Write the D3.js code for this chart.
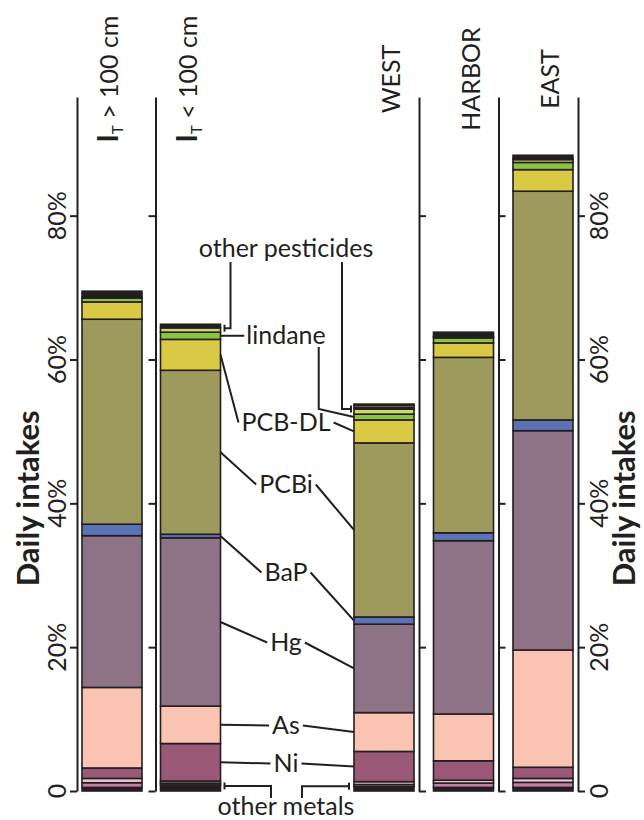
<!DOCTYPE html>
<html lang="en">
<head>
<meta charset="UTF-8">
<title>Daily intakes</title>
<style>
  body { margin: 0; background: #fff; }
  text { font-family: Lato, "Open Sans", sans-serif; fill: #231f20; }
</style>
</head>
<body>
<div id="chart-area"></div>
<script src="https://cdnjs.cloudflare.com/ajax/libs/d3/7.8.5/d3.min.js"></script>
<script>
// ---- data (% of daily intake, segment sizes bottom -> top) ----
const leftSites = ['gt100', 'lt100'];
const rightSites = ['WEST', 'HARBOR', 'EAST'];
const layers = ['metalA', 'metalB', 'metalC', 'Ni', 'As', 'Hg', 'BaP', 'PCBi', 'PCB-DL',
                'lindane', 'pestA', 'pestB', 'pestC', 'pestD'];
const layerColors = ['#231f20', '#c47ca9', '#ecc6d3', '#9a5877', '#fbc4b2', '#8e7285', '#5b73b4',
                     '#9e995c', '#d9c945', '#8bc540', '#cdd672', '#231f20', '#cdd672', '#231f20'];
const gt100  = [0.5, 0.65, 0.6, 1.45, 11.2, 21.1, 1.6, 28.5, 2.4, 0.55, 0.1, 0, 0, 0.85];
const lt100  = [0.85, 0.25, 0.3, 5.2, 5.2, 23.4, 0.5, 22.8, 4.3, 1.0, 0.6, 0.5, 0, 0];
const west   = [0.6, 0.3, 0.4, 4.2, 5.4, 12.3, 1.0, 24.2, 3.2, 0.8, 0.7, 0.2, 0.3, 0.2];
const harbor = [0.5, 0.6, 0.4, 2.7, 6.5, 24.1, 1.1, 24.4, 2.0, 0.7, 0.2, 0, 0, 0.6];
const east   = [0.5, 0.7, 0.55, 1.55, 16.3, 30.5, 1.5, 31.8, 3.0, 1.0, 0.4, 0, 0, 0.6];
const yTicks = [0, 20, 40, 60, 80];
const tickLabels = ['0', '20%', '40%', '60%', '80%'];

// annotation labels and the layers they point to
const annoLabels = ['other pesticides', 'lindane', 'PCB-DL', 'PCBi', 'BaP', 'Hg', 'As', 'Ni', 'other metals'];
const annoLayers = [['pestA', 'pestD'], ['lindane', 'lindane'], ['PCB-DL', 'PCB-DL'], ['PCBi', 'PCBi'],
                    ['BaP', 'BaP'], ['Hg', 'Hg'], ['As', 'As'], ['Ni', 'Ni'], ['metalA', 'metalC']];

// ---- layout ----
const W = 644, H = 820;
const annoBaselines = [257, 344, 431, 493, 581, 651, 734, 772, 815];
const annoX = 286;
const ink = '#231f20';

const table = [
  ['gt100', gt100], ['lt100', lt100], ['WEST', west], ['HARBOR', harbor], ['EAST', east]
].map(([site, vals]) => {
  const row = {site};
  layers.forEach((k, i) => row[k] = vals[i]);
  return row;
});

const svg = d3.select('#chart-area').append('svg')
    .attr('width', W)
    .attr('height', H)
    .style('background', '#fff');

const y = d3.scaleLinear().domain([0, 96.5]).range([791, 97]);
const xLeft = d3.scaleBand().domain(leftSites).range([77, 234]);
const xRight = d3.scaleBand().domain(rightSites).range([339.5, 578]);
const barW = 60, barGap = 5;

const barX = site => leftSites.includes(site)
    ? xLeft(site) + barGap
    : xRight(site) + xRight.bandwidth() - barGap - barW;

// ---- axis lines ----
leftSites.forEach(s => {
  svg.append('g')
      .attr('transform', `translate(${xLeft(s)},0)`)
      .call(d3.axisLeft(y).tickValues(yTicks).tickSize(7).tickSizeOuter(0).tickFormat(''));
});
rightSites.forEach(s => {
  svg.append('g')
      .attr('transform', `translate(${xRight(s) + xRight.bandwidth()},0)`)
      .call(d3.axisRight(y).tickValues(yTicks).tickSize(7).tickSizeOuter(0).tickFormat(''));
});
svg.selectAll('.domain, .tick line').attr('stroke', ink).attr('stroke-width', 2);

// tick labels on the outer axes
const tl = svg.append('g');
tl.selectAll('text.tl-left').data(yTicks).enter().append('text')
    .attr('transform', d => `translate(66,${y(d)}) rotate(-90)`)
    .attr('text-anchor', 'middle')
    .style('font-size', '25px')
    .text((d, i) => tickLabels[i]);
tl.selectAll('text.tl-right').data(yTicks).enter().append('text')
    .attr('transform', d => `translate(608,${y(d)}) rotate(-90)`)
    .attr('text-anchor', 'middle')
    .style('font-size', '25px')
    .text((d, i) => tickLabels[i]);

// y titles
[39, 635].forEach(bx => {
  svg.append('text')
      .attr('transform', `translate(${bx},${y(40) - 5}) rotate(-90)`)
      .attr('text-anchor', 'middle')
      .style('font-size', '31px')
      .style('font-weight', 700)
      .text('Daily intakes');
});

// ---- stacked bars ----
const series = d3.stack().keys(layers)(table);

svg.append('g').selectAll('g')
    .data(series)
    .enter().append('g')
    .attr('fill', (d, i) => layerColors[i])
    .selectAll('rect')
    .data(d => d.filter(p => p[1] - p[0] > 0))
    .enter().append('rect')
    .attr('x', d => barX(d.data.site))
    .attr('width', barW)
    .attr('y', d => y(d[1]))
    .attr('height', d => y(d[0]) - y(d[1]))
    .attr('stroke', ink)
    .attr('stroke-width', 1.6);

// ---- column headers ----
const headerX = s => leftSites.includes(s) ? xLeft(s) + 41 : xRight(s) + xRight.bandwidth() - 19;
['gt100', 'lt100'].forEach((s, i) => {
  const t = svg.append('text')
      .attr('transform', `translate(${headerX(s)},79) rotate(-90)`)
      .attr('text-anchor', 'middle')
      .style('font-size', '25px');
  t.append('tspan').style('font-weight', 700).style('font-size', '28px').text('I');
  t.append('tspan').attr('dy', 5).style('font-size', '15px').text('T');
  t.append('tspan').attr('dy', -5).text(i === 0 ? ' > 100 cm' : ' < 100 cm');
});
rightSites.forEach(s => {
  svg.append('text')
      .attr('transform', `translate(${headerX(s)},79) rotate(-90)`)
      .attr('text-anchor', 'middle')
      .style('font-size', '25px')
      .text(s);
});

// ---- annotations ----
const stackBy = {};
series.forEach(s => { stackBy[s.key] = {}; s.forEach(p => stackBy[s.key][p.data.site] = p); });
const midY = (site, [k0, k1]) => y((stackBy[k0][site][0] + stackBy[k1][site][1]) / 2);

const bar2R = barX('lt100') + barW;
const westL = barX('WEST');
const lines = svg.append('g').attr('fill', 'none').attr('stroke', ink).attr('stroke-width', 2);
const line = d3.line();

annoLabels.forEach((lab, i) => {
  const t = svg.append('text')
      .attr('x', annoX)
      .attr('y', annoBaselines[i])
      .attr('text-anchor', 'middle')
      .style('font-size', '25px')
      .text(lab);
  const bb = t.node().getBBox();
  const yl = midY('lt100', annoLayers[i]);
  const yr = midY('WEST', annoLayers[i]);
  const capMid = annoBaselines[i] - 8.5;

  if (lab === 'other pesticides') {
    const vx1 = bar2R + 10, vx2 = westL - 12, top = annoBaselines[i] + 5;
    lines.append('path').attr('d', line([[vx1, top], [vx1, yl], [bar2R + 4, yl]]));
    lines.append('path').attr('d', line([[bar2R + 4, yl - 3.5], [bar2R + 4, yl + 3.5]]));
    lines.append('path').attr('d', line([[vx2, top], [vx2, yr], [westL - 3, yr]]));
    lines.append('path').attr('d', line([[westL - 3, yr - 3.5], [westL - 3, yr + 3.5]]));
  } else if (lab === 'other metals') {
    const vx1 = annoX - 15, vx2 = annoX + 16, bot = annoBaselines[i] - 17;
    lines.append('path').attr('d', line([[bar2R + 4, yl], [vx1, yl], [vx1, bot]]));
    lines.append('path').attr('d', line([[bar2R + 4, yl - 3.5], [bar2R + 4, yl + 3.5]]));
    lines.append('path').attr('d', line([[vx2, bot], [vx2, yr], [westL - 5, yr]]));
    lines.append('path').attr('d', line([[westL - 5, yr - 3.5], [westL - 5, yr + 3.5]]));
  } else if (lab === 'lindane') {
    lines.append('path').attr('d', line([[bar2R, yl], [bb.x - 2, yl]]));
    const vx = bb.x + bb.width - 7;
    lines.append('path').attr('d', line([[vx, annoBaselines[i] + 3], [vx, yr - 8], [westL, yr]]));
  } else {
    lines.append('path').attr('d', line([[bar2R, yl], [bb.x - 3, capMid]]));
    lines.append('path').attr('d', line([[bb.x + bb.width + 3, capMid], [westL, yr]]));
  }
});
</script>
</body>
</html>
